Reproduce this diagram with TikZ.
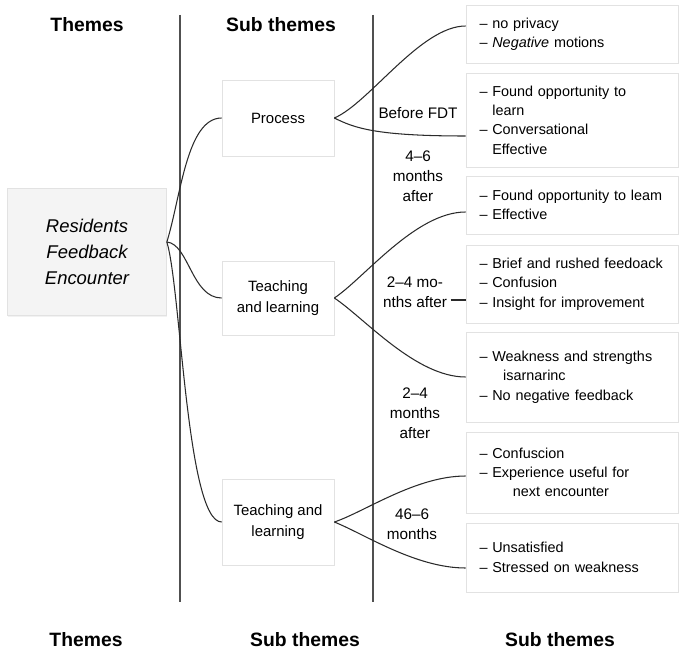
\documentclass[tikz,border=0pt]{standalone}
\usepackage{fontspec}
\setmainfont{Liberation Sans}
\usepackage{xcolor}
\usepackage{tikz}
\usetikzlibrary{shadows}

\definecolor{boxline}{HTML}{E2E2E2}
\definecolor{themefill}{HTML}{F4F4F4}
\definecolor{curveline}{HTML}{2A2A2A}
\definecolor{sepline}{HTML}{505050}

\begin{document}
\begin{tikzpicture}[x=0.02cm,y=-0.02cm]
        % Define styles
        \tikzset{
            header/.style={font=\fontsize{11}{13}\selectfont\bfseries},
            theme/.style={rectangle, draw=boxline, fill=themefill, minimum width=3.18cm, minimum height=2.54cm,
                align=center, font=\fontsize{10.5}{14.7}\selectfont\itshape,
                drop shadow={opacity=0.10, shadow xshift=0.5pt, shadow yshift=-0.7pt}},
            subbox/.style={rectangle, draw=boxline, fill=white, minimum width=2.24cm,
                align=center, font=\fontsize{8.5}{12}\selectfont,
                drop shadow={opacity=0.10, shadow xshift=0.5pt, shadow yshift=-0.7pt}},
            leaf/.style={rectangle, draw=boxline, fill=white, text width=3.7cm, inner xsep=0.27cm,
                align=left, font=\fontsize{8.2}{11}\selectfont,
                drop shadow={opacity=0.10, shadow xshift=0.5pt, shadow yshift=-0.7pt}},
            time/.style={align=center, inner sep=2pt, font=\fontsize{8.7}{11.4}\selectfont},
            link/.style={draw=curveline, line width=0.6pt},
            divider/.style={draw=sepline, line width=0.7pt}
        }

        \useasboundingbox (0,0) rectangle (685,662);

        % Headers
        \node[header] (head_top_1) at (87,25) {Themes};
        \node[header] (head_top_2) at (281,25) {Sub themes};
        \node[header] (head_bot_1) at (86,640) {Themes};
        \node[header] (head_bot_2) at (305,640) {Sub themes};
        \node[header] (head_bot_3) at (560,640) {Sub themes};

        % Dividers
        \draw[divider] (180,15) -- (180,602);
        \draw[divider] (373,15) -- (373,602);

        % Nodes
        \node[theme] (theme_node) at (87,252) {Residents\\Feedback\\Encounter};

        \node[subbox, minimum height=1.52cm] (sub_node_1) at (278,118) {Process};
        \node[subbox, minimum height=1.48cm] (sub_node_2) at (278,298) {Teaching\\and learning};
        \node[subbox, minimum height=1.72cm] (sub_node_3) at (278,522) {Teaching and\\learning};

        \node[leaf, minimum height=1.16cm] (leaf_node_1) at (572,34)
            {-- no privacy\\-- \textit{Negative} motions};
        \node[leaf, minimum height=1.88cm] (leaf_node_2) at (572,120)
            {-- Found opportunity to\\\phantom{-- }learn\\-- Conversational\\\phantom{-- }Effective};
        \node[leaf, minimum height=1.16cm] (leaf_node_3) at (572,205)
            {-- Found opportunity to leam\\-- Effective};
        \node[leaf, minimum height=1.56cm] (leaf_node_4) at (572,284)
            {-- Brief and rushed feedoack\\-- Confusion\\-- Insight for improvement};
        \node[leaf, minimum height=1.80cm] (leaf_node_5) at (572,377)
            {-- Weakness and strengths\\\hspace*{13.5pt}isarnarinc\\-- No negative feedback};
        \node[leaf, minimum height=1.62cm] (leaf_node_6) at (572,472.5)
            {-- Confuscion\\-- Experience useful for\\\hspace*{19pt}next encounter};
        \node[leaf, minimum height=1.38cm] (leaf_node_7) at (572,557.5)
            {-- Unsatisfied\\-- Stressed on weakness};

        \node[time] (time_node_1) at (418,113) {Before FDT};
        \node[time] (time_node_2) at (418,176) {4--6\\months\\after};
        \node[time] (time_node_3) at (415,292) {2--4 mo-\\nths after};
        \node[time] (time_node_4) at (415,413) {2--4\\months\\after};
        \node[time] (time_node_5) at (412,524) {46--6\\months};

        \coordinate (d_link) at (466,300);

        % Arrows
        \draw[link] ([yshift=0.2cm]theme_node.east) .. controls +(14,-45) and +(-35,0) .. (sub_node_1.west);
        \draw[link] ([yshift=0.2cm]theme_node.east) .. controls +(22,2) and +(-30,0) .. (sub_node_2.west);
        \draw[link] ([yshift=0.2cm]theme_node.east) .. controls +(14,45) and +(-35,0) .. (sub_node_3.west);

        \draw[link] (sub_node_1.east) .. controls +(35,-15) and +(-45,0) .. ([yshift=0.16cm]leaf_node_1.west);
        \draw[link] (sub_node_1.east) .. controls +(20,10) and +(-90,0) .. ([yshift=-0.32cm]leaf_node_2.west);
        \draw[link] (sub_node_2.east) .. controls +(30,-20) and +(-50,0) .. ([yshift=-0.14cm]leaf_node_3.west);
        \draw[link] (time_node_3.east |- d_link) -- (d_link);
        \draw[link] (sub_node_2.east) .. controls +(30,20) and +(-50,0) .. (leaf_node_5.west);
        \draw[link] (sub_node_3.east) .. controls +(30,-10) and +(-50,0) .. ([yshift=-0.07cm]leaf_node_6.west);
        \draw[link] (sub_node_3.east) .. controls +(30,12) and +(-50,0) .. ([yshift=-0.21cm]leaf_node_7.west);
    \end{tikzpicture}
\end{document}
